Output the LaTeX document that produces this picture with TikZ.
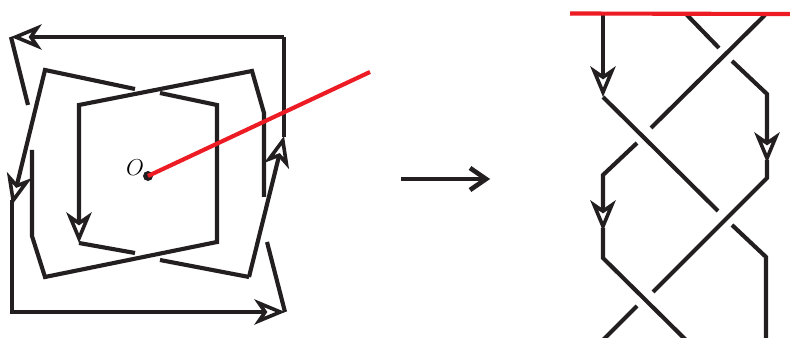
\documentclass[tikz,border=0pt]{standalone}
\usepackage{tikz}
\usepackage{amsmath}
\usepackage[dvipsnames]{xcolor}
\usetikzlibrary{arrows.meta}
\definecolor{strandblack}{HTML}{231F20}
\definecolor{cutred}{HTML}{ED1C24}
\tikzset{
    strand/.style={line width=3.1pt, color=strandblack, line join=miter},
    cutline/.style={line width=3.1pt, color=cutred},
    headtip/.style={-{Stealth[open, length=23pt, width=19pt, inset=6.5pt, line width=2.7pt, sep=0pt]}},
}
\begin{document}
\begin{tikzpicture}[x=0.75pt, y=-0.75pt]
        \useasboundingbox (0,0) rectangle (790,338);
        \begin{scope}
        \clip (0,0) rectangle (790,338);
        % closed braid around the point
        \draw[strand, headtip] (284,37) -- (11,37);
        \draw[strand, headtip] (249,277) -- (284,136);
        \draw[strand] (160,260) -- (249,277);
        \draw[strand] (284,137) -- (284,37);
        \draw[strand] (11,37) -- (28,105);
        \draw[strand, headtip] (135,89) -- (45,70) -- (12,205);
        \draw[strand, headtip] (12,200) -- (12,312) -- (285,312);
        \draw[strand] (285,312) -- (267,242);
        \draw[strand] (32,150) -- (32,236) -- (45,277) -- (217,242) -- (217,105) -- (160,93);
        \draw[strand, headtip] (264,197) -- (264,113) -- (252,71) -- (79,105) -- (79,243);
        \draw[strand] (79,243) -- (135,253);
        \fill[strandblack] (148,176) circle (5);
        \draw[cutline] (148,176) -- (370,72);
        \node[font=\fontsize{16}{16}\selectfont] (origin) at (135,168) {$O$};
        % map arrow
        \coordinate (mapfrom) at (401,179);
        \coordinate (mapto) at (486,179);
        \draw[strand] (mapfrom) -- (mapto);
        \draw[strand, line width=3.5pt] (mapto) +(-16,-11) -- (mapto) -- +(-16,11);
        % opened braid
        \draw[strand, headtip] (603,14) -- (603,97);
        \draw[strand] (603,97) -- (718,211);
        \draw[strand] (686,14) -- (719,48);
        \draw[strand] (765,15) -- (651,128);
        \draw[strand, headtip] (732,61) -- (767,94) -- (767,163);
        \draw[strand] (767,160) -- (767,178) -- (653,292);
        \draw[strand, headtip] (637,143) -- (603,175) -- (603,231);
        \draw[strand] (603,228) -- (603,258) -- (690,344);
        \draw[strand] (732,225) -- (766,257) -- (766,345);
        \draw[strand] (637,306) -- (600,343);
        \draw[cutline] (570,13.5) -- (790,14);
        \end{scope}
    \end{tikzpicture}
\end{document}
